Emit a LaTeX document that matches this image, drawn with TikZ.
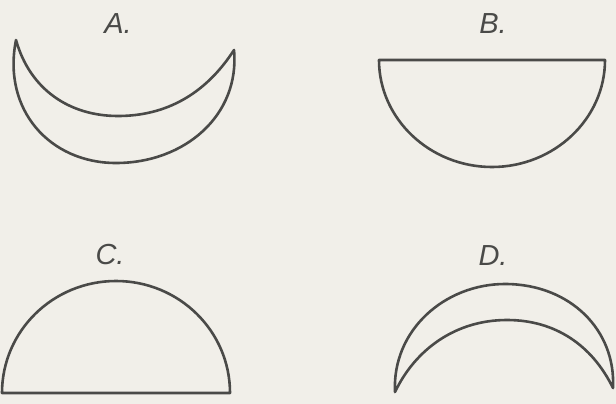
\documentclass[tikz,border=0pt]{standalone}
\usepackage{fontspec}
\setmainfont{Liberation Sans}
\definecolor{paper}{HTML}{F1EFE9}
\definecolor{ink}{HTML}{4A4A48}
\begin{document}
\begin{tikzpicture}[x=1pt,y=-1pt,
  shape line/.style={draw=ink,line width=2.6pt,line join=round,line cap=round},
  lbl/.style={text=ink,font=\fontsize{29}{29}\selectfont\itshape,inner sep=0pt}]
\fill[paper] (0,0) rectangle (616,404);
\useasboundingbox (0,0) rectangle (616,404);
% labels
\node[lbl] (la) at (118,24) {A.};
\node[lbl] (lb) at (493,24) {B.};
\node[lbl] (lc) at (110,255) {C.};
\node[lbl] (ld) at (493,256) {D.};
% A: crescent opening upward
\path[shape line] (16,40) .. controls (2,110) and (50,163) .. (116,163)
  .. controls (185,163) and (240,115) .. (234,50)
  .. controls (205,95) and (165,116) .. (118,116)
  .. controls (70,116) and (30,90) .. (16,40) -- cycle;
% B: half disc, flat side up
\path[shape line] (379,60) -- (605,60)
  .. controls (605,119) and (554,167) .. (492,167)
  .. controls (430,167) and (379,119) .. (379,60) -- cycle;
% C: half disc, flat side down
\path[shape line] (2,393) .. controls (2,331) and (53,281) .. (116,281)
  .. controls (179,281) and (230,331) .. (230,393) -- cycle;
% D: crescent opening downward
\path[shape line] (395,392) .. controls (392,330) and (445,284) .. (505,284)
  .. controls (570,284) and (616,330) .. (613,388)
  .. controls (592,345) and (555,320) .. (507,320)
  .. controls (455,320) and (415,350) .. (395,392) -- cycle;
\end{tikzpicture}
\end{document}
